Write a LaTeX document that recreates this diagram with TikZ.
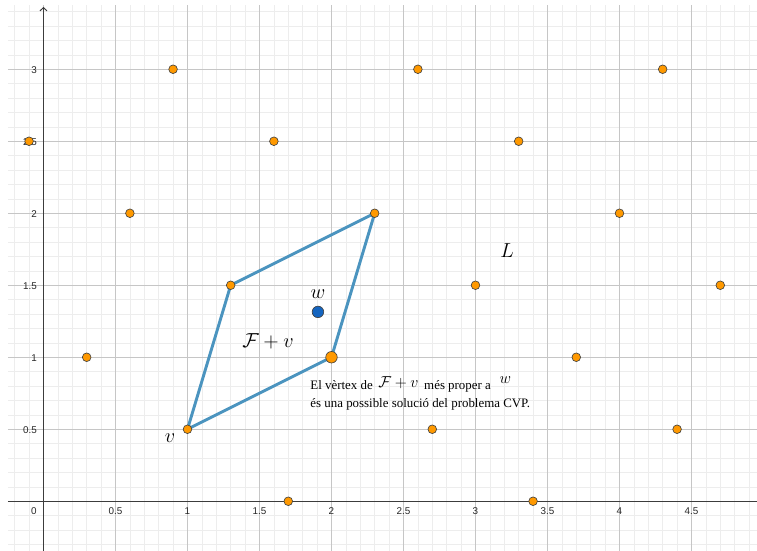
\documentclass[tikz,border=0pt]{standalone}
\usepackage{fix-cm}
\usepackage{fontspec}
\setmainfont{Liberation Serif}
\setsansfont{Liberation Sans}
\usetikzlibrary{arrows.meta}
\definecolor{ptorange}{HTML}{FF9900}
\definecolor{ptblue}{HTML}{1565C0}
\definecolor{cellblue}{HTML}{4B94BF}
\definecolor{gridmajor}{HTML}{C6C6C6}
\definecolor{gridminor}{HTML}{EDEDED}
\definecolor{axisgray}{HTML}{3C3C3C}

\begin{document}
\begin{tikzpicture}[x=4cm, y=4cm, >={Straight Barb[length=0.9mm,width=1.9mm]},
  lat/.style={circle, draw=black!75, line width=0.5pt, fill=ptorange, inner sep=0pt, minimum size=2.4mm},
  latbig/.style={lat, minimum size=3.2mm},
  wpt/.style={circle, draw=black!75, line width=0.5pt, fill=ptblue, inner sep=0pt, minimum size=3.2mm},
  ticklab/.style={font=\sffamily\fontsize{7.8}{9}\selectfont, text=black!85, inner sep=1pt, text height=1.5ex, text depth=0pt},
  lbl/.style={font=\fontsize{16}{19}\selectfont, inner sep=1pt},
  capt/.style={font=\fontsize{10.2}{14.5}\selectfont, align=left, inner sep=0pt}]
\useasboundingbox (-0.302,-0.345) rectangle (4.955,3.481);
% grid
\foreach \i in {-2,...,49} \draw[gridminor, line width=0.5pt] ({\i/10},-0.345) -- ({\i/10},3.447);
\foreach \j in {-3,...,34} \draw[gridminor, line width=0.5pt] (-0.247,{\j/10}) -- (4.955,{\j/10});
\foreach \i in {0,...,9} \draw[gridmajor, line width=0.7pt] ({\i/2},-0.345) -- ({\i/2},3.447);
\foreach \j in {0,...,6} \draw[gridmajor, line width=0.7pt] (-0.247,{\j/2}) -- (4.955,{\j/2});
% axes
\draw[axisgray, line width=0.8pt] (-0.247,0) -- (4.955,0);
\draw[axisgray, line width=0.8pt, ->] (0,-0.345) -- (0,3.433);
\node[ticklab] (xt0) at (-0.066,-0.065) {0};
\foreach \t [count=\i] in {0.5,1,1.5,2,2.5,3,3.5,4,4.5} \node[ticklab] (xt\i) at (\t,-0.065) {\t};
\foreach \t [count=\i] in {0.5,1,1.5,2,2.5,3} \node[ticklab, anchor=east] (yt\i) at (-0.036,\t) {\t};
% cell F+v
\coordinate (v0) at (1,0.5);
\coordinate (v1) at (1.3,1.5);
\coordinate (v2) at (2.3,2);
\coordinate (v3) at (2,1);
\draw[cellblue, line width=2.3pt, line join=round] (v0) -- (v1) -- (v2) -- (v3) -- cycle;
% lattice L
\foreach \x/\y [count=\i] in {0.9/3,2.6/3,4.3/3,-0.1/2.5,1.6/2.5,3.3/2.5,0.6/2,2.3/2,4/2,1.3/1.5,3/1.5,4.7/1.5,0.3/1,3.7/1,1/0.5,2.7/0.5,4.4/0.5,1.7/0,3.4/0}
  \node[lat] (p\i) at (\x,\y) {};
\node[latbig] (p0) at (v3) {};
\node[wpt] (w) at (1.906,1.315) {};
% labels
\node[lbl] (wl) at (1.906,1.44) {$w$};
\node[lbl] (Ll) at (3.219,1.738) {$L$};
\node[lbl] (Fl) at (1.559,1.113) {$\mathcal{F}+v$};
\node[lbl] (vl) at (0.878,0.44) {$v$};
\node[capt, anchor=base west] (cap) at (1.852,0.65) {El vèrtex de\hspace{4.5pt}\raisebox{1.6pt}{\fontsize{12.5}{14}\selectfont$\mathcal{F}+v$}\hspace{4.5pt}més proper a\hspace{7pt}\raisebox{4.7pt}{\fontsize{12.5}{14}\selectfont$w$}\\és una possible solució del problema CVP.};
\end{tikzpicture}
\end{document}
